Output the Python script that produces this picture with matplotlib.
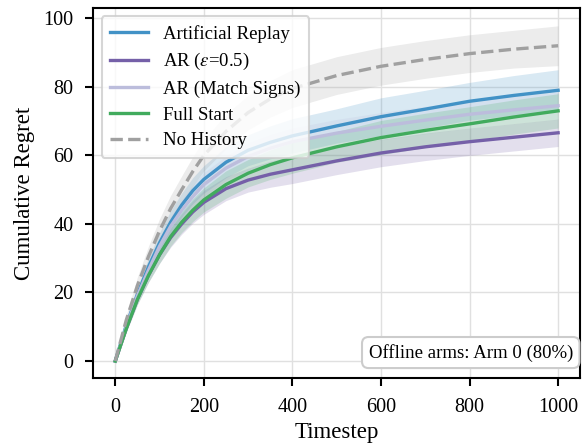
import numpy as np
import matplotlib
matplotlib.use("Agg")
import matplotlib.pyplot as plt

# data
timesteps = [0, 25, 50, 75, 100, 125, 150, 175, 200, 250, 300, 350, 400, 500, 600, 700, 800, 900, 1000]

no_history = [0, 12, 22, 30.5, 38, 44.5, 50, 55.3, 60, 67, 72.5, 76.5, 79.5, 83.3, 86, 88, 89.7, 91, 92]
no_history_err = [0, 1.5, 2.5, 3, 3.5, 3.8, 4, 4.3, 4.5, 5, 5, 5.3, 5.5, 5.5, 5.5, 5.5, 5.5, 5.5, 5.8]

artificial_replay = [0, 10.5, 19.5, 27.5, 34.5, 40.5, 45.5, 49.7, 53, 58, 61.5, 63.8, 65.7, 68.6, 71.3, 73.5, 75.8, 77.5, 79]
artificial_replay_err = [0, 1, 2, 2.5, 3, 3.3, 3.5, 3.8, 4, 4.5, 4.5, 4.8, 5, 5, 5.5, 5.5, 5.5, 5.8, 6]

ar_eps = [0, 9.5, 18, 25, 31, 36, 40, 43.5, 46.3, 50.3, 52.8, 54.5, 55.8, 58.4, 60.7, 62.5, 64, 65.3, 66.6]
ar_eps_err = [0, 1, 1.5, 2, 2.5, 2.8, 3, 3.3, 3.5, 3.5, 3.5, 3.8, 4, 4, 4, 4, 4, 4, 4]

ar_match = [0, 10, 19, 26.5, 33.5, 39.3, 44, 48, 51.5, 56.3, 59.7, 62.1, 64, 66.5, 68.5, 70.3, 72, 73.3, 74.5]
ar_match_err = [0, 1, 1.5, 2, 2.5, 2.8, 3, 3.3, 3.5, 3.5, 4, 4, 4, 4, 4, 4, 4, 4, 4]

full_start = [0, 9.5, 18, 25, 31, 36.3, 40.5, 44, 47, 51.5, 54.8, 57.3, 59.3, 62.5, 65.2, 67.3, 69.2, 71.2, 73]
full_start_err = [0, 1, 1.5, 2, 2.5, 2.8, 3, 3.3, 3.5, 4, 4, 4.3, 4.5, 4.5, 5, 5, 5, 5, 5]

series = [
    ("Artificial Replay", artificial_replay, artificial_replay_err, "#4292c6", "-"),
    (r"AR ($\varepsilon$=0.5)", ar_eps, ar_eps_err, "#7560a8", "-"),
    ("AR (Match Signs)", ar_match, ar_match_err, "#bcbddc", "-"),
    ("Full Start", full_start, full_start_err, "#41ab5d", "-"),
    ("No History", no_history, no_history_err, "#a0a0a0", "--"),
]

plt.rcParams["font.family"] = ["Liberation Serif", "DejaVu Serif"]
plt.rcParams["mathtext.fontset"] = "stix"

fig = plt.figure(figsize=(5.82, 4.47), dpi=100)
ax = fig.add_axes([0.16, 0.154, 0.837, 0.828])

t = np.array(timesteps)
for label, mean, err, color, ls in series:
    mean = np.array(mean)
    err = np.array(err)
    ax.fill_between(t, mean - err, mean + err, color=color, alpha=0.2, linewidth=0)
    ax.plot(t, mean, ls, color=color, linewidth=2.4, label=label)

ax.set_xlim(-50, 1050)
ax.set_ylim(-5, 103)
ax.set_xticks([0, 200, 400, 600, 800, 1000])
ax.set_yticks([0, 20, 40, 60, 80, 100])
ax.grid(True, color="#e0e0e0", linewidth=1.0)
ax.set_axisbelow(True)
ax.tick_params(axis="both", labelsize=14.5, width=1.5, length=6, direction="out", pad=8)
for s in ax.spines.values():
    s.set_linewidth(1.5)
ax.set_xlabel("Timestep", fontsize=16.5, labelpad=4)
ax.set_ylabel("Cumulative Regret", fontsize=16.5, labelpad=6)

leg = ax.legend(loc="upper left", fontsize=13.5, framealpha=0.8, edgecolor="#cccccc",
                handlelength=2.05, handletextpad=0.8, borderpad=0.45, labelspacing=0.45,
                borderaxespad=0.45)
leg.get_frame().set_linewidth(1.5)

ax.text(0.985, 0.045, "Offline arms: Arm 0 (80%)", transform=ax.transAxes,
        ha="right", va="bottom", fontsize=13.5,
        bbox=dict(boxstyle="round,pad=0.35", facecolor="white", edgecolor="#cccccc", linewidth=1.5))

fig.savefig("out.png", dpi=100)
